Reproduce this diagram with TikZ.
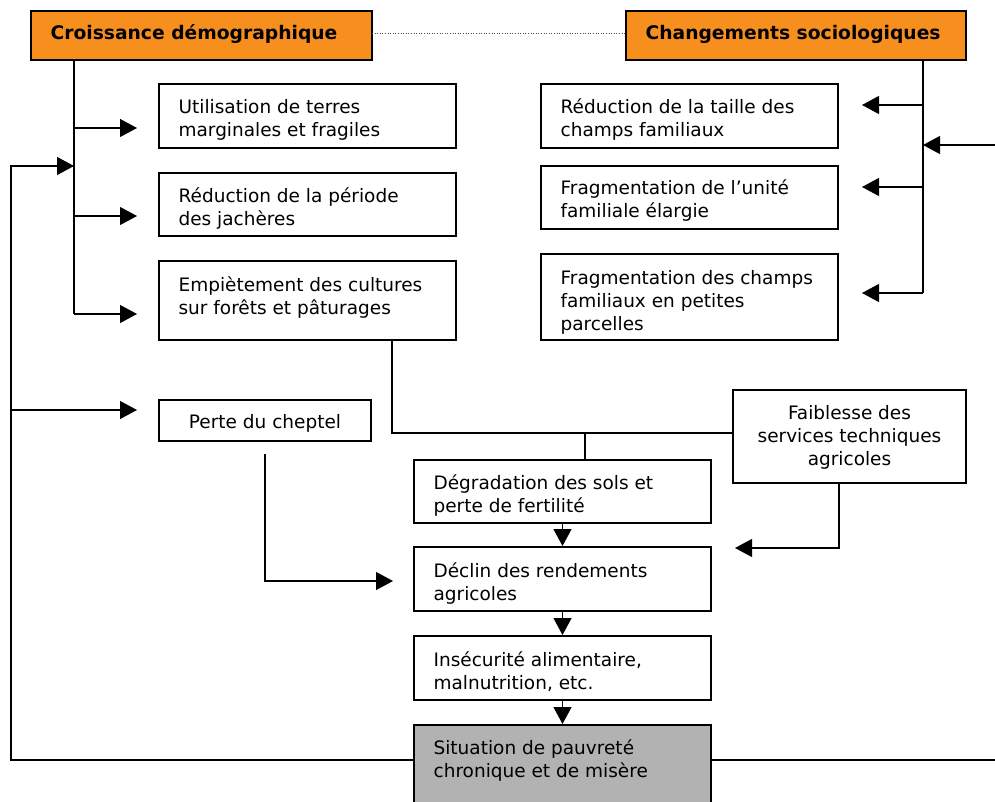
\documentclass[tikz,border=0pt]{standalone}
\usepackage{fontspec}
\setmainfont{DejaVu Sans}
\usetikzlibrary{arrows.meta,calc}
\definecolor{orng}{RGB}{247,143,30}
\definecolor{grayfill}{RGB}{178,178,178}
\begin{document}
\begin{tikzpicture}[x=1pt,y=-1pt, line width=1.2pt,
 box/.style={draw, line width=1.2pt, rectangle, inner sep=0pt, outer sep=0pt},
 txt/.style={inner sep=0pt, align=left, font=\fontsize{18.5}{23}\selectfont, anchor=base west},
 ctxt/.style={inner sep=0pt, align=center, font=\fontsize{18.5}{23}\selectfont, anchor=base},
 hdr/.style={inner sep=0pt, font=\fontsize{18.7}{22}\selectfont\bfseries, anchor=base west},
 arr/.style={-{Triangle[length=17pt,width=18pt]}},
]
\clip (0,0) rectangle (995,802);
% boxes
\node[box, fill=orng, minimum width=341, minimum height=49] (cd) at (201.5,35.5) {};
\node[box, fill=orng, minimum width=340, minimum height=49] (cs) at (796,35.5) {};
\node[box, minimum width=297, minimum height=64] (u1) at (307.5,116) {};
\node[box, minimum width=297, minimum height=63] (u2) at (307.5,204.5) {};
\node[box, minimum width=297, minimum height=79] (u3) at (307.5,300.5) {};
\node[box, minimum width=212, minimum height=41] (pc) at (265,420.5) {};
\node[box, minimum width=297, minimum height=64] (r1) at (689.5,116) {};
\node[box, minimum width=297, minimum height=63] (r2) at (689.5,197.5) {};
\node[box, minimum width=297, minimum height=86] (r3) at (689.5,297) {};
\node[box, minimum width=233, minimum height=93] (fs) at (849.5,436.5) {};
\node[box, minimum width=297, minimum height=63] (dg) at (562.5,491.5) {};
\node[box, minimum width=297, minimum height=64] (dc) at (562.5,579) {};
\node[box, minimum width=297, minimum height=64] (in) at (562.5,668) {};
\node[box, fill=grayfill, minimum width=297, minimum height=90] (si) at (562.5,770) {};
% texts (anchor = baseline of last line)
\node[hdr] (tcd) at (50,40) {Croissance démographique};
\node[hdr] (tcs) at (645,40) {Changements sociologiques};
\node[txt] (tu1) at (178,137) {Utilisation de terres\\marginales et fragiles};
\node[txt] (tu2) at (178,226) {Réduction de la période\\des jachères};
\node[txt] (tu3) at (178,314) {Empiètement des cultures\\sur forêts et pâturages};
\node[ctxt] (tpc) at (265,428) {Perte du cheptel};
\node[txt] (tr1) at (560,137) {Réduction de la taille des\\champs familiaux};
\node[txt] (tr2) at (560,218) {Fragmentation de l’unité\\familiale élargie};
\node[txt] (tr3) at (560,330) {Fragmentation des champs\\familiaux en petites\\parcelles};
\node[ctxt] (tfs) at (849.5,465) {Faiblesse des\\services techniques\\agricoles};
\node[txt] (tdg) at (433,512) {Dégradation des sols et\\perte de fertilité};
\node[txt] (tdc) at (433,600) {Déclin des rendements\\agricoles};
\node[txt] (tin) at (433,689) {Insécurité alimentaire,\\malnutrition, etc.};
\node[txt] (tsi) at (433,777) {Situation de pauvreté\\chronique et de misère};
% junction coordinates
\coordinate (lt1) at (74,128);
\coordinate (lt2) at (74,216);
\coordinate (lt3) at (74,314);
\coordinate (lin) at (74,166);
\coordinate (lb) at (11,760);
\coordinate (lp) at (11,410);
\coordinate (rb) at (995,760);
\coordinate (rt1) at (923,105);
\coordinate (rt2) at (923,187);
\coordinate (rt3) at (923,293);
\coordinate (rin) at (995,145);
\coordinate (ej) at (392,433);
\coordinate (dj) at (585,433);
\coordinate (ps) at (265,454);
\coordinate (pj) at (265,581);
\coordinate (fj) at (839,548);
\coordinate (ft) at (735,548);
% connectors
\draw[gray!60!black, line width=1pt, dash pattern=on 1pt off 1.6pt] (cd.east |- 0,34) -- (cs.west |- 0,34);
\draw (cd.south -| lt3) -- (lt3);
\draw[arr, shorten >=22pt] (lt1) -- (lt1 -| u1.west);
\draw[arr, shorten >=22pt] (lt2) -- (lt2 -| u2.west);
\draw[arr, shorten >=22pt] (lt3) -- (lt3 -| u3.west);
\draw[arr] (lb -| si.west) -- (lb) -- (lb |- lin) -- (lin);
\draw[arr, shorten >=22pt] (lp) -- (lp -| pc.west);
\draw (si.east |- rb) -- (rb);
\draw (cs.south -| rt3) -- (rt3);
\draw[arr, shorten >=24pt] (rt1) -- (rt1 -| r1.east);
\draw[arr, shorten >=24pt] (rt2) -- (rt2 -| r2.east);
\draw[arr, shorten >=24pt] (rt3) -- (rt3 -| r3.east);
\draw[arr] (rin) -- (rin -| rt1);
\draw (u3.south -| ej) -- (ej) -- (ej -| fs.west);
\draw (dj) -- (dj |- dg.north);
\draw[arr, shorten >=21pt] (ps) -- (pj) -- (pj -| dc.west);
\draw[arr] (fs.south -| fj) -- (fj) -- (ft);
\draw[arr, shorten >=1pt] (dg.south) -- (dc.north);
\draw[arr, shorten >=1pt] (dc.south) -- (in.north);
\draw[arr, shorten >=1pt] (in.south) -- (si.north);
\end{tikzpicture}
\end{document}
